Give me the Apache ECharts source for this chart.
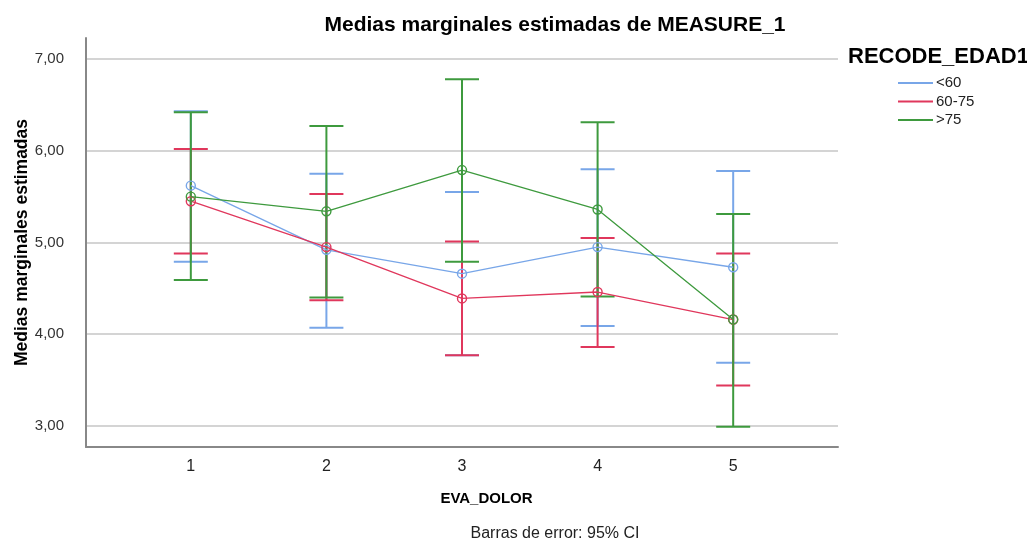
<!DOCTYPE html>
<html>
<head>
<meta charset="utf-8">
<script src="https://cdn.jsdelivr.net/npm/echarts@6/dist/echarts.min.js"></script>
<style>
  html, body { margin: 0; padding: 0; background: #fff; }
  #chart { width: 1027px; height: 543px; }
</style>
</head>
<body>
<div id="chart"></div>
<script>
// Estimated marginal means by EVA_DOLOR level, one series per age group,
// with 95% confidence intervals.
const categories = [1, 2, 3, 4, 5];
const groupNames = ['<60', '60-75', '>75'];

const meanLt60  = [5.62, 4.92, 4.66, 4.95, 4.73];
const lowLt60   = [4.79, 4.07, 3.77, 4.09, 3.69];
const highLt60  = [6.43, 5.75, 5.55, 5.80, 5.78];

const mean6075  = [5.45, 4.95, 4.39, 4.46, 4.16];
const low6075   = [4.88, 4.37, 3.77, 3.86, 3.44];
const high6075  = [6.02, 5.53, 5.01, 5.05, 4.88];

const meanGt75  = [5.50, 5.34, 5.79, 5.36, 4.16];
const lowGt75   = [4.59, 4.40, 4.79, 4.41, 2.99];
const highGt75  = [6.42, 6.27, 6.78, 6.31, 5.31];

const yTicks = [3, 4, 5, 6, 7];

const colors = ['#78a6e8', '#e0375c', '#3e9a3e'];
const FONT = '"Liberation Sans", Arial, sans-serif';

const groups = [
  { name: groupNames[0], mean: meanLt60, low: lowLt60, high: highLt60 },
  { name: groupNames[1], mean: mean6075, low: low6075, high: high6075 },
  { name: groupNames[2], mean: meanGt75, low: lowGt75, high: highGt75 }
];

function errorBarSeries(g, i) {
  return {
    type: 'custom',
    name: g.name,
    z: 2 + i,
    silent: true,
    itemStyle: { color: colors[i] },
    data: categories.map((c, k) => [c, g.low[k], g.high[k]]),
    encode: { x: 0, y: [1, 2] },
    renderItem: function (params, api) {
      const x = api.value(0);
      const lo = api.coord([x, api.value(1)]);
      const hi = api.coord([x, api.value(2)]);
      const half = 17;
      const style = { stroke: colors[i], lineWidth: 2, fill: null };
      return {
        type: 'group',
        children: [
          { type: 'line', shape: { x1: lo[0], y1: lo[1], x2: hi[0], y2: hi[1] }, style },
          { type: 'line', shape: { x1: hi[0] - half, y1: hi[1], x2: hi[0] + half, y2: hi[1] }, style },
          { type: 'line', shape: { x1: lo[0] - half, y1: lo[1], x2: lo[0] + half, y2: lo[1] }, style }
        ]
      };
    }
  };
}

function meanSeries(g, i) {
  return {
    type: 'line',
    name: g.name,
    z: 10 + i,
    data: categories.map((c, k) => [c, g.mean[k]]),
    symbol: 'circle',
    symbolSize: 9,
    lineStyle: { color: colors[i], width: 1.3 },
    itemStyle: { color: 'rgba(0,0,0,0)', borderColor: colors[i], borderWidth: 1.4 },
    emphasis: { disabled: true }
  };
}

const chart = echarts.init(document.getElementById('chart'), null, { renderer: 'canvas' });

chart.setOption({
  animation: false,
  backgroundColor: '#ffffff',
  color: colors,
  grid: { left: 86, right: 189, top: 38, bottom: 96, containLabel: false, outerBoundsMode: 'none' },
  xAxis: {
    type: 'value',
    min: 0.227,
    max: 5.773,
    name: 'EVA_DOLOR',
    nameLocation: 'middle',
    nameGap: 44,
    nameMoveOverlap: false,
    nameTextStyle: { fontFamily: FONT, fontWeight: 'bold', fontSize: 15, color: '#000', padding: [0, 0, 0, 49] },
    axisLine: { show: true, lineStyle: { color: '#888', width: 2 } },
    axisTick: { show: false, customValues: categories },
    axisLabel: { customValues: categories, fontFamily: FONT, fontSize: 16, color: '#222', margin: 12 },
    splitLine: { show: false }
  },
  yAxis: {
    type: 'value',
    min: 2.77,
    max: 7.23,
    name: 'Medias marginales estimadas',
    nameLocation: 'middle',
    nameGap: 55,
    nameMoveOverlap: false,
    nameTextStyle: { fontFamily: FONT, fontWeight: 'bold', fontSize: 17.5, color: '#000' },
    axisLine: { show: true, lineStyle: { color: '#888', width: 2 } },
    axisTick: { show: false, customValues: yTicks },
    axisLabel: {
      customValues: yTicks,
      fontFamily: FONT, fontSize: 15, color: '#333', margin: 22,
      formatter: v => v.toFixed(2).replace('.', ',')
    },
    splitLine: { show: true, lineStyle: { color: '#d4d4d4', width: 2 } }
  },
  legend: {
    orient: 'vertical',
    left: 893,
    top: 69,
    itemWidth: 35,
    itemHeight: 2,
    itemGap: 0.5,
    icon: 'rect',
    data: groupNames.map((n, i) => ({ name: n, itemStyle: { color: colors[i] } })),
    textStyle: { fontFamily: FONT, fontSize: 15, color: '#222', lineHeight: 18, padding: [0, 0, 0, -2] }
  },
  graphic: [
    {
      type: 'text', x: 555, y: 25,
      style: { text: 'Medias marginales estimadas de MEASURE_1', font: 'bold 21px ' + FONT, fill: '#000', textAlign: 'center', textVerticalAlign: 'middle' }
    },
    {
      type: 'text', x: 848, y: 57,
      style: { text: 'RECODE_EDAD1', font: 'bold 22px ' + FONT, fill: '#000', textVerticalAlign: 'middle' }
    },
    {
      type: 'text', x: 555, y: 534,
      style: { text: 'Barras de error: 95% CI', font: '16px ' + FONT, fill: '#222', textAlign: 'center', textVerticalAlign: 'middle' }
    }
  ],
  series: groups.map(errorBarSeries).concat(groups.map(meanSeries))
});
</script>
</body>
</html>
